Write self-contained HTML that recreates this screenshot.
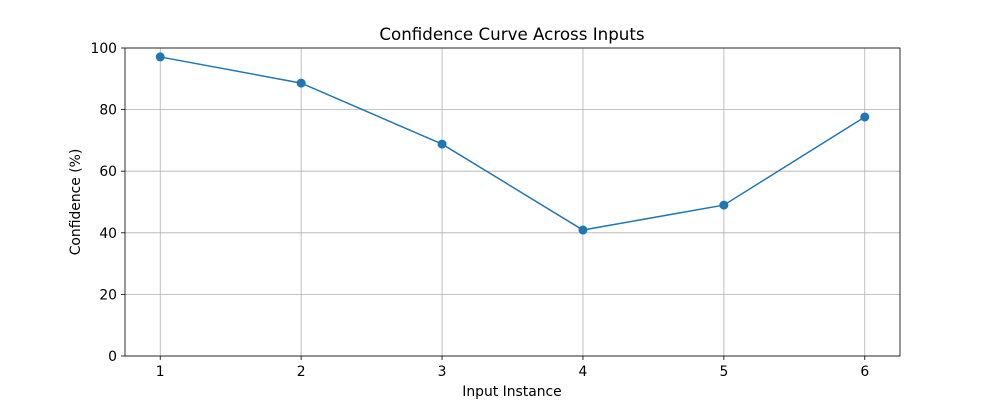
<!DOCTYPE html>
<html><head><meta charset="utf-8"><style>
html,body{margin:0;padding:0;background:#fff;}
svg{display:block;font-family:"DejaVu Sans","Liberation Sans",sans-serif;}
</style></head><body>
<svg id="chart" width="1000" height="400" viewBox="0 0 1000 400">
<text x="512" y="40" text-anchor="middle" font-size="16.7">Confidence Curve Across Inputs</text>
<g id="grid"></g>
<g id="axes"></g>
<g id="series"></g>
<text x="512" y="396" text-anchor="middle" font-size="13.9">Input Instance</text>
<text x="80" y="202" text-anchor="middle" font-size="13.9" transform="rotate(-90 80 202)">Confidence (%)</text>
</svg>
<script>
const categories = [1, 2, 3, 4, 5, 6];
const confidence = [97.1, 88.6, 68.8, 40.9, 49.0, 77.6];
const yTicks = [0, 20, 40, 60, 80, 100];

const L = 125, R = 900, T = 48, B = 356;
const xMin = 0.75, xMax = 6.25, yMin = 0, yMax = 100;
const xs = v => L + (v - xMin) / (xMax - xMin) * (R - L);
const ys = v => B - (v - yMin) / (yMax - yMin) * (B - T);
const NS = "http://www.w3.org/2000/svg";
function mk(tag, attrs, parent) {
  const e = document.createElementNS(NS, tag);
  for (const k in attrs) e.setAttribute(k, attrs[k]);
  parent.appendChild(e);
  return e;
}
const grid = document.getElementById('grid');
const axes = document.getElementById('axes');
const series = document.getElementById('series');

categories.forEach(c => {
  const x = xs(c);
  const g = mk('line', {x1: x, x2: x, y1: T, y2: B, stroke: '#b0b0b0', 'stroke-width': 0.8}, grid);
  
  
  const t = mk('line', {x1: x, x2: x, y1: B, y2: B + 4, stroke: '#000', 'stroke-width': 0.8}, axes);
  
  
  const lb = mk('text', {x: x, y: B + 20, 'text-anchor': 'middle', 'font-size': 13.9}, axes);
  lb.textContent = c;
  
  
});
yTicks.forEach(v => {
  const y = ys(v);
  const g = mk('line', {x1: L, x2: R, y1: y, y2: y, stroke: '#b0b0b0', 'stroke-width': 0.8}, grid);
  
  
  const t = mk('line', {x1: L - 4, x2: L, y1: y, y2: y, stroke: '#000', 'stroke-width': 0.8}, axes);
  
  
  const lb = mk('text', {x: L - 8, y: y + 5, 'text-anchor': 'end', 'font-size': 13.9}, axes);
  lb.textContent = v;
  
  
});
const frame = mk('rect', {x: L, y: T, width: R - L, height: B - T, fill: 'none', stroke: '#000', 'stroke-width': 0.8}, axes);



const pts = categories.map((c, i) => xs(c) + ',' + ys(confidence[i])).join(' ');
const line = mk('polyline', {points: pts, fill: 'none', stroke: '#1f77b4', 'stroke-width': 1.5}, series);


categories.forEach((c, i) => {
  const p = mk('circle', {cx: xs(c), cy: ys(confidence[i]), r: 4.5, fill: '#1f77b4'}, series);
  
  
});
</script>
</body></html>
